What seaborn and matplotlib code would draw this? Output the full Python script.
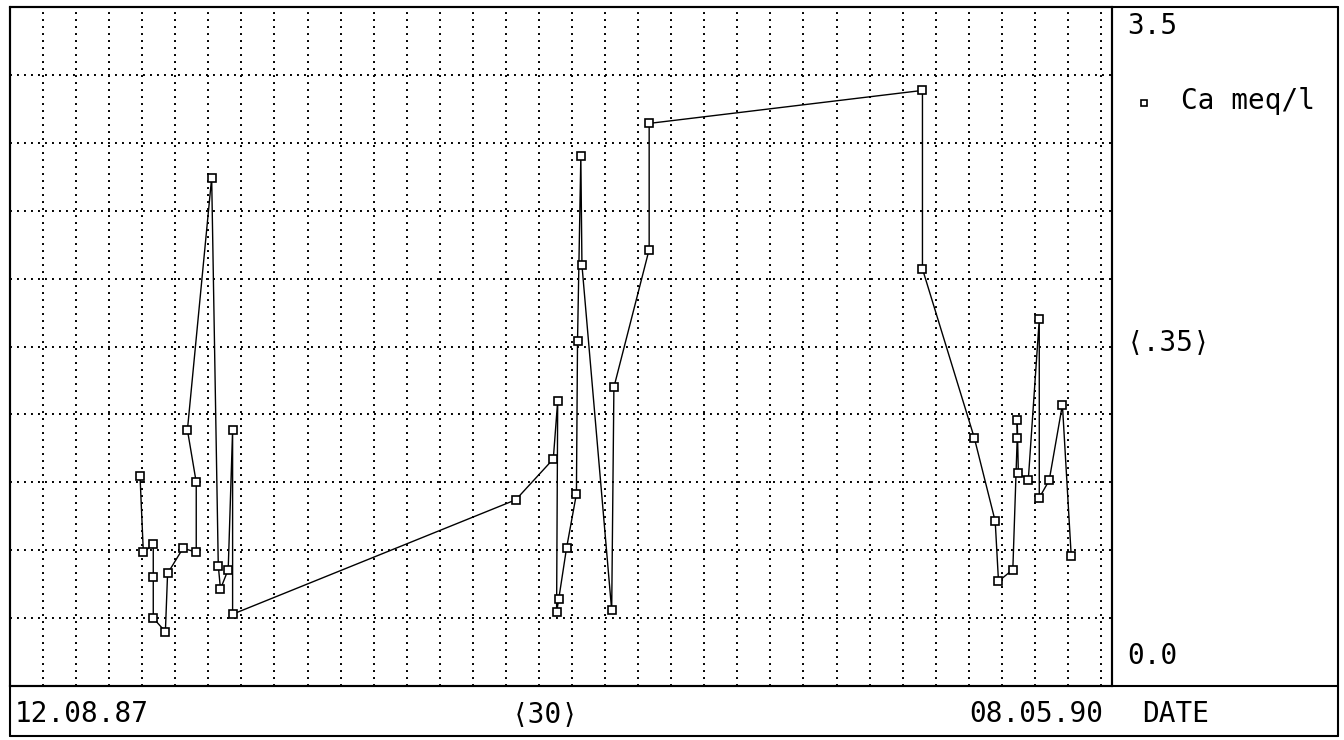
import matplotlib
matplotlib.use("Agg")
import matplotlib.pyplot as plt
import numpy as np
import pandas as pd
import seaborn as sns

# ---- data (days since 12.08.87, Ca in meq/l), in sampling/plot order ----
sample_day = [118, 121, 130, 130, 130, 141, 143, 157, 169, 169, 161, 183, 189, 191, 198, 202, 202,
              459, 493, 497, 496, 498, 505, 514, 515, 518, 519, 546, 548, 580, 580,
              828, 828, 875, 894, 897, 910, 914, 914, 915, 924, 934, 934, 943, 955, 963]
ca_meq = [1.08, 0.69, 0.73, 0.56, 0.35, 0.28, 0.58, 0.71, 0.69, 1.05, 1.32, 2.62, 0.62, 0.50, 0.60, 1.32, 0.37,
          0.96, 1.17, 1.47, 0.38, 0.45, 0.71, 0.99, 1.78, 2.73, 2.17, 0.39, 1.54, 2.25, 2.90,
          3.07, 2.15, 1.28, 0.85, 0.54, 0.60, 1.28, 1.37, 1.10, 1.06, 1.89, 0.97, 1.06, 1.45, 0.67]
start_label = "12.08.87"
end_label = "08.05.90"
x_span_days = 1000
x_step_days = 30
y_max = 3.5
y_step = 0.35
series_name = "Ca meq/l"

sns.set_theme(style="white")
plt.rcParams['font.family'] = ['DejaVu Sans Mono', 'DejaVu Sans']
plt.rcParams['text.color'] = 'black'

W, H = 1344, 740
fig = plt.figure(figsize=(W / 100, H / 100), dpi=100)
fig.patch.set_facecolor("white")

def fx(px):
    return px / W

# main plot area
L, R, T, B = 10, 1112, 7, 686
ax = fig.add_axes([fx(L), 1 - B / H, fx(R - L), (B - T) / H])
ax.set_facecolor("white")

df = pd.DataFrame({"day": sample_day, "ca": ca_meq})
sns.lineplot(data=df, x="day", y="ca", sort=False, estimator=None, ax=ax,
             color="black", linewidth=1.0, marker="s", markersize=6.3,
             markerfacecolor="white", markeredgecolor="black", markeredgewidth=1.2,
             zorder=3)

ax.set_xlim(0, x_span_days)
ax.set_ylim(0, y_max)
for xv in np.arange(x_step_days, x_span_days, x_step_days):
    ax.axvline(xv, color="black", linewidth=1.4, linestyle=(0, (1, 2.6)), zorder=1)
for yv in np.arange(1, 10) * y_step:
    ax.axhline(yv, color="black", linewidth=1.4, linestyle=(0, (1, 2.6)), zorder=1)
ax.set_xticks([])
ax.set_yticks([])
ax.set_xlabel("")
ax.set_ylabel("")
for s in ax.spines.values():
    s.set_color("black")
    s.set_linewidth(1.5)
if ax.get_legend() is not None:
    ax.get_legend().remove()

# overlay for frame lines and labels
ov = fig.add_axes([0, 0, 1, 1], facecolor="none")
ov.set_xlim(0, W)
ov.set_ylim(H, 0)
ov.axis("off")
lk = dict(color="black", linewidth=1.5)
ov.plot([10, 1338], [7, 7], **lk)
ov.plot([10, 1338], [736, 736], **lk)
ov.plot([10, 10], [7, 736], **lk)
ov.plot([1338, 1338], [7, 736], **lk)
ov.plot([10, 1338], [686, 686], **lk)
ov.plot([1112, 1112], [7, 686], **lk)

fs = 20
tk = dict(fontsize=fs, color="black", va="center")
ov.text(15, 714, start_label, ha="left", **tk)
ov.text(545, 714, "⟨%d⟩" % x_step_days, ha="center", **tk)
ov.text(1103, 714, end_label, ha="right", **tk)
ov.text(1142, 714, "DATE", ha="left", **tk)
ov.text(1127, 26, "%.1f" % y_max, ha="left", **tk)
ov.text(1127, 342, "⟨.35⟩", ha="left", **tk)
ov.text(1127, 656, "0.0", ha="left", **tk)
ov.plot([1144], [103], marker="s", markersize=5, markerfacecolor="white",
        markeredgecolor="black", markeredgewidth=1.2, linestyle="none")
ov.text(1181, 101, series_name, ha="left", **tk)

fig.savefig("out.png", dpi=100, facecolor="white")
